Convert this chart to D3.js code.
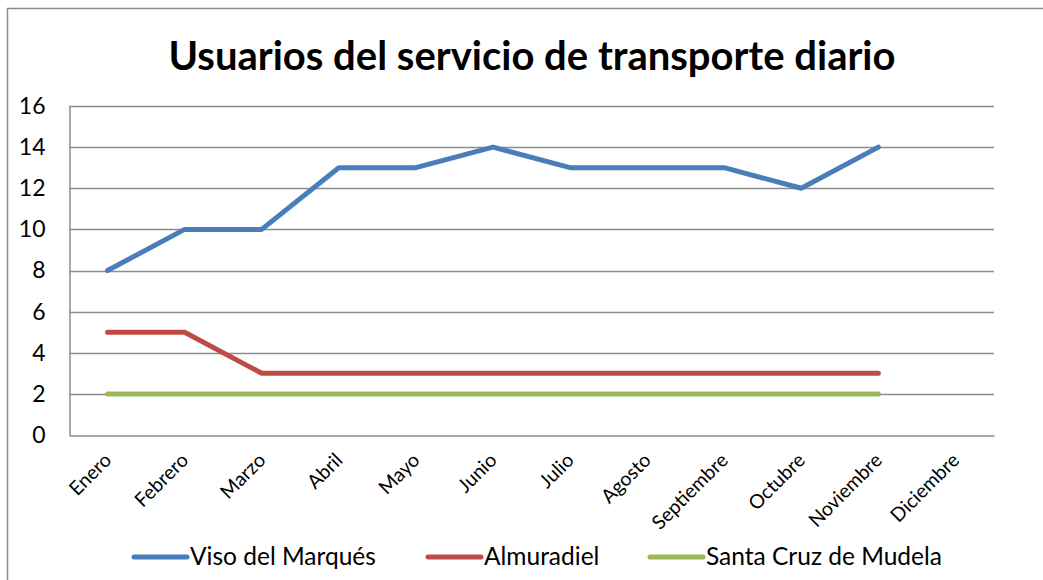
<!DOCTYPE html>
<html><head><meta charset="utf-8">
<script src="https://cdn.jsdelivr.net/npm/d3@7"></script>
<style>body{margin:0;background:#fff}svg{display:block;font-family:Lato,"Open Sans",sans-serif}</style>
</head><body>
<svg id="c" width="1043" height="580"></svg>
<script>
const title = "Usuarios del servicio de transporte diario";
const months = ["Enero","Febrero","Marzo","Abril","Mayo","Junio","Julio","Agosto","Septiembre","Octubre","Noviembre","Diciembre"];
const seriesNames = ["Viso del Marqués","Almuradiel","Santa Cruz de Mudela"];
const visoValues = [8,10,10,13,13,14,13,13,13,12,14,null];
const almuradielValues = [5,5,3,3,3,3,3,3,3,3,3,null];
const santaCruzValues = [2,2,2,2,2,2,2,2,2,2,2,null];
const yTicks = [0,2,4,6,8,10,12,14,16];
const colors = ["#4a7ebb","#be4b48","#98b954"];

const svg = d3.select("#c");
svg.append("rect").attr("x",7.5).attr("y",8.5).attr("width",1100).attr("height",600)
  .attr("fill","#fff").attr("stroke","#8c8c8c").attr("stroke-width",1.5);

const L=69, R=994, T=106, B=435;
const x = d3.scaleBand().domain(months).range([L,R]);
const y = d3.scaleLinear().domain([0,16]).range([B,T]);

svg.append("text").attr("x",532).attr("y",70).attr("text-anchor","middle")
  .attr("font-size",40).attr("font-weight","bold").attr("fill","#000").text(title);

// gridlines
svg.append("g").selectAll("line").data(yTicks.filter(d=>d>0)).join("line")
  .attr("x1",L).attr("x2",R).attr("y1",d=>Math.round(y(d))+0.5).attr("y2",d=>Math.round(y(d))+0.5)
  .attr("stroke","#8c8c8c").attr("stroke-width",1.5);

// y axis
const ya = svg.append("g").attr("transform",`translate(${L+0.5},0)`)
  .call(d3.axisLeft(y).tickValues(yTicks).tickSize(0).tickPadding(24));
ya.select(".domain").attr("stroke","#8c8c8c").attr("stroke-width",1.5);
ya.selectAll("text").attr("font-size",23).attr("fill","#000").attr("font-family","Lato,'Open Sans',sans-serif");

// x axis
const xa = svg.append("g").attr("transform",`translate(0,${B+0.5})`)
  .call(d3.axisBottom(x).tickSize(0).tickPadding(0));
xa.select(".domain").attr("stroke","#8c8c8c").attr("stroke-width",1.5);
xa.selectAll(".tick text").attr("font-size",19.5).attr("fill","#000").attr("font-family","Lato,'Open Sans',sans-serif")
  .attr("text-anchor","end").attr("dy",0)
  .attr("transform","translate(5,26) rotate(-45)");

const allSeries = [visoValues, almuradielValues, santaCruzValues];
const line = d3.line().defined(d=>d.v!=null).x(d=>x(d.m)+x.bandwidth()/2).y(d=>y(d.v));
allSeries.forEach((vals,i)=>{
  svg.append("path").datum(vals.map((v,j)=>({m:months[j],v})))
    .attr("d",line).attr("fill","none").attr("stroke",colors[i]).attr("stroke-width",5)
    .attr("stroke-linejoin","round").attr("stroke-linecap","round");
});

// legend
const legX = [134, 428, 650];
const lg = svg.append("g");
seriesNames.forEach((n,i)=>{
  lg.append("line").attr("x1",legX[i]).attr("x2",legX[i]+53).attr("y1",557).attr("y2",557)
    .attr("stroke",colors[i]).attr("stroke-width",5).attr("stroke-linecap","round");
  lg.append("text").attr("x",legX[i]+56).attr("y",565).attr("font-size",24.5).attr("fill","#000").text(n);
});
</script>
</body></html>
